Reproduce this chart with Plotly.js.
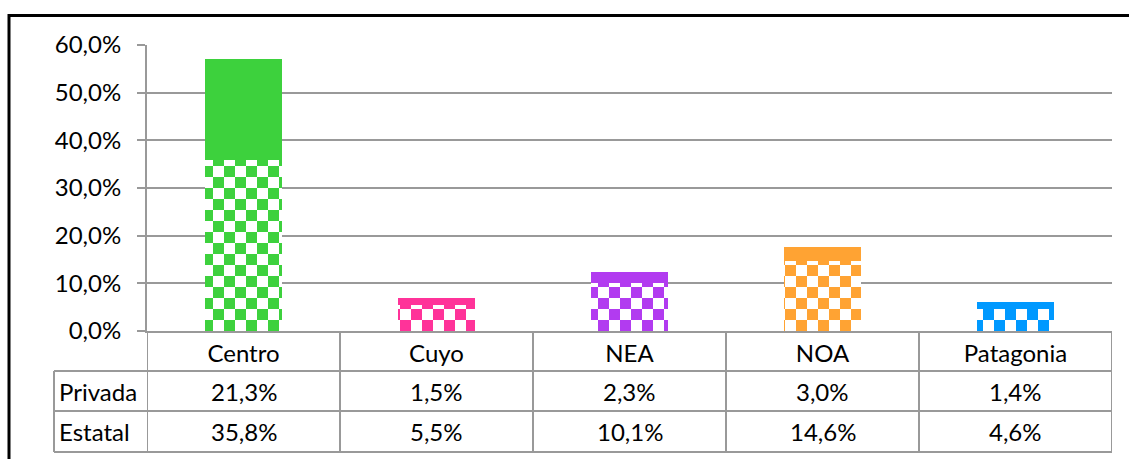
<!DOCTYPE html>
<html><head><meta charset="utf-8">
<script src="https://cdn.plot.ly/plotly-3.0.1.min.js"></script>
<style>html,body{margin:0;padding:0;background:#fff;} #chart{width:1129px;height:459px;}</style>
</head><body><div id="chart"></div>
<script>
const categories = ['Centro', 'Cuyo', 'NEA', 'NOA', 'Patagonia'];
const estatal = [35.8, 5.5, 10.1, 14.6, 4.6];
const privada = [21.3, 1.5, 2.3, 3.0, 1.4];
const colors = ['#3DD13D', '#FF3399', '#B23BF0', '#FFA333', '#0099FF'];
const rowLabels = ['Privada', 'Estatal'];
const yTicks = [0, 10, 20, 30, 40, 50, 60];

const FONT = 'Lato, "Open Sans", sans-serif';
const FS = 24;
const GRID = '#999999';
const fmt = v => v.toFixed(1).replace('.', ',') + '%';

// geometry (pixels) of the plot area
const L = 147, R = 1112, T = 45, B = 331, W = 1129, H = 459;
const ph = B - T, pw = R - L;
const py = y => (B - y) / ph;        // pixel y -> paper y
const px = x => (x - L) / pw;        // pixel x -> paper x

const data = [
  {
    type: 'bar', name: 'Estatal', x: categories, y: estatal, width: 0.4,
    marker: { color: colors, line: { width: 0 },
      pattern: { shape: '.', fgcolor: colors, bgcolor: '#ffffff', size: 22, solidity: 0.4, fillmode: 'replace' } },
    hoverinfo: 'skip'
  },
  {
    type: 'bar', name: 'Privada', x: categories, y: privada, width: 0.4,
    marker: { color: colors, line: { width: 0 } },
    hoverinfo: 'skip'
  }
];

const shapes = [];
const lineStyle = { color: GRID, width: 2 };
for (let k = 0; k <= categories.length; k++) {
  shapes.push({ type: 'line', xref: 'x', yref: 'paper', x0: k - 0.5, x1: k - 0.5, y0: 0, y1: py(452), line: lineStyle });
}
[371, 411, 452].forEach(yy => {
  shapes.push({ type: 'line', xref: 'paper', yref: 'paper', x0: px(54), x1: 1, y0: py(yy), y1: py(yy), line: lineStyle });
});
shapes.push({ type: 'line', xref: 'paper', yref: 'paper', x0: px(54), x1: px(54), y0: py(371), y1: py(452), line: lineStyle });
shapes.push({ type: 'rect', xref: 'paper', yref: 'paper', x0: px(9), x1: 1.3, y0: py(15.5), y1: -0.8,
  line: { color: '#000000', width: 3 }, fillcolor: 'rgba(0,0,0,0)' });

const annotations = [];
const rowY = [py(391), py(431)];
const rowVals = [privada, estatal];
rowLabels.forEach((lab, r) => {
  annotations.push({ xref: 'paper', yref: 'paper', x: px(57), y: rowY[r], xanchor: 'left', yanchor: 'middle',
    text: lab, showarrow: false, font: { family: FONT, size: FS, color: '#000' } });
  categories.forEach((c, i) => {
    annotations.push({ xref: 'x', yref: 'paper', x: c, y: rowY[r], xanchor: 'center', yanchor: 'middle',
      text: fmt(rowVals[r][i]), showarrow: false, font: { family: FONT, size: FS, color: '#000' } });
  });
});

const layout = {
  width: W, height: H,
  margin: { l: L, r: W - R, t: T, b: H - B, pad: 0 },
  paper_bgcolor: '#ffffff', plot_bgcolor: '#ffffff',
  barmode: 'stack', showlegend: false,
  font: { family: FONT, size: FS, color: '#000' },
  xaxis: {
    type: 'category', range: [-0.5, 4.5], showgrid: false, zeroline: false,
    showline: true, linecolor: GRID, linewidth: 2, ticks: '',
    tickfont: { family: FONT, size: FS, color: '#000' }, ticklabelstandoff: 0
  },
  yaxis: {
    range: [0, 60], tickmode: 'array', tickvals: yTicks, ticktext: yTicks.map(fmt),
    showgrid: true, gridcolor: GRID, gridwidth: 2, zeroline: false,
    showline: true, linecolor: GRID, linewidth: 2,
    ticks: 'outside', ticklen: 8, tickwidth: 2, tickcolor: GRID,
    tickfont: { family: FONT, size: FS, color: '#000' }, ticklabelstandoff: 11
  },
  shapes: shapes,
  annotations: annotations
};

Plotly.newPlot('chart', data, layout, { staticPlot: true, displayModeBar: false }).then(gd => {
  const NS = 'http://www.w3.org/2000/svg';
  gd.querySelectorAll('pattern').forEach(p => {
    let col = null;
    p.querySelectorAll('path, circle').forEach(el => {
      const f = el.style.fill || el.getAttribute('fill');
      if (f && f !== 'none') col = f;
    });
    if (!col) return;
    while (p.firstChild) p.removeChild(p.firstChild);
    const s = 11;
    p.setAttribute('width', 2 * s); p.setAttribute('height', 2 * s);
    p.removeAttribute('patternTransform');
    const mk = (x, y, w, h, c) => {
      const r = document.createElementNS(NS, 'rect');
      r.setAttribute('x', x); r.setAttribute('y', y);
      r.setAttribute('width', w); r.setAttribute('height', h);
      r.setAttribute('fill', c);
      p.appendChild(r);
    };
    mk(0, 0, 2 * s, 2 * s, '#ffffff');
    mk(0, 0, s, s, col);
    mk(s, s, s, s, col);
  });
});
</script>
</body></html>
